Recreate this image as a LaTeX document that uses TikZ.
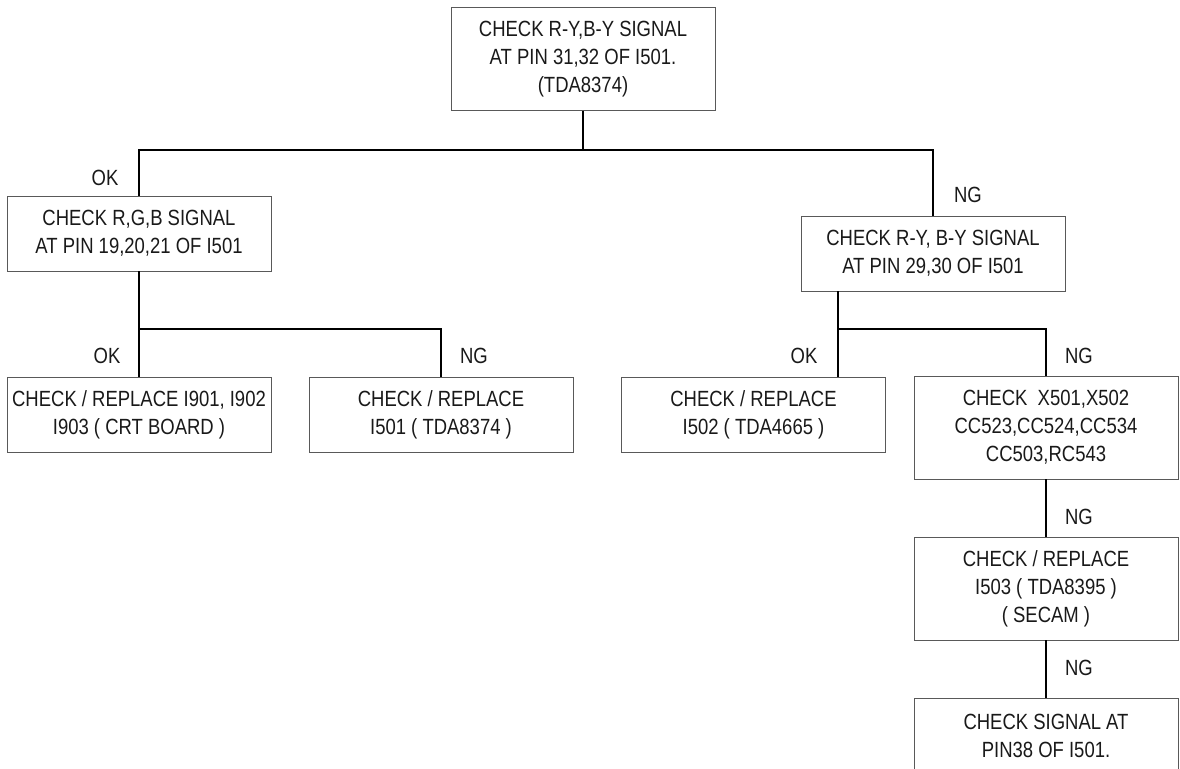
\documentclass[tikz,border=0pt]{standalone}
\usepackage{fontspec}
\setmainfont{Liberation Sans}[FakeStretch=0.84]
\usetikzlibrary{positioning}

\tikzset{
	chkbox/.style={draw=black!65, line width=0.9pt, text=black!90, align=center,
		minimum width=264pt, minimum height=75pt, inner sep=0pt,
		font=\fontsize{22}{28}\selectfont},
	tallbox/.style={chkbox, minimum height=103pt},
	answer/.style={text=black!90, inner sep=0pt, font=\fontsize{22}{28}\selectfont},
	wire/.style={line width=1.8pt, black}
}

\begin{document}
\begin{tikzpicture}[x=1pt, y=-1pt]
			\useasboundingbox (0, 0) rectangle (1180, 768);

			\node[tallbox] (top) at (583, 59) {CHECK R-Y,B-Y SIGNAL\\AT PIN 31,32 OF I501.\\(TDA8374)};
			\node[chkbox] (rgb) at (139, 233.5) {CHECK R,G,B SIGNAL\\AT PIN 19,20,21 OF I501};
			\node[chkbox] (ry) at (933, 253.5) {CHECK R-Y, B-Y SIGNAL\\AT PIN 29,30 OF I501};
			\node[chkbox] (crt) at (139, 414.5) {CHECK / REPLACE I901, I902\\I903 ( CRT BOARD )};
			\node[chkbox] (ic501) at (441, 414.5) {CHECK / REPLACE\\I501 ( TDA8374 )};
			\node[chkbox] (ic502) at (753.5, 414.5) {CHECK / REPLACE\\I502 ( TDA4665 )};
			\node[tallbox] (xtal) at (1046, 427.5) {CHECK\ \ X501,X502\\CC523,CC524,CC534\\CC503,RC543};
			\node[tallbox] (secam) at (1046, 588.5) {CHECK / REPLACE\\I503 ( TDA8395 )\\( SECAM )};
			\node[chkbox] (pin38) at (1046, 736) {CHECK SIGNAL AT\\PIN38 OF I501.};

			\coordinate (j0) at (583, 150);
			\coordinate (j1) at (139, 329);
			\coordinate (j2) at (838, 329);

			\draw[wire] (top) -- (j0);
			\draw[wire] (rgb.north) |- (j0) -| (ry.north);
			\draw[wire] (rgb) -- (j1) -- (crt);
			\draw[wire] (j1) -| (ic501.north);
			\draw[wire] (j2 |- ry.south) -- (j2) -| (xtal.north);
			\draw[wire] (j2) -- (j2 |- ic502.north);
			\draw[wire] (xtal) -- (secam);
			\draw[wire] (secam) -- (pin38);

			\node[answer] (ok1) at (105, 178) {OK};
			\node[answer] (ng1) at (968, 195) {NG};
			\node[answer] (ok2) at (107, 356) {OK};
			\node[answer] (ng2) at (474, 356) {NG};
			\node[answer] (ok3) at (804, 356) {OK};
			\node[answer] (ng3) at (1079, 356) {NG};
			\node[answer] (ng4) at (1079, 517) {NG};
			\node[answer] (ng5) at (1079, 668) {NG};
		\end{tikzpicture}
\end{document}
